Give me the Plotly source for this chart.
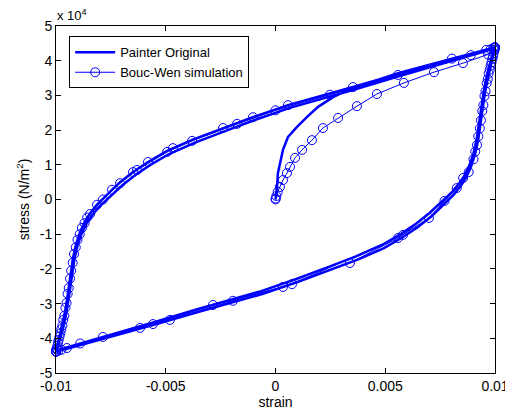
import plotly.graph_objects as go

# ---------------- data (stress in units of 1e4 N/m^2) ----------------
# Painter Original: virgin loading curve
painter_virgin_strain = [0, 0.00003, 0.00007, 0.00011, 0.0002, 0.00034, 0.00057, 0.00098, 0.00144,
                         0.00194, 0.00262, 0.00339, 0.0042, 0.00558, 0.00804, 0.0095, 0.01]
painter_virgin_stress = [0, 0.15, 0.36, 0.76, 1.05, 1.43, 1.80, 2.09, 2.38,
                         2.67, 2.95, 3.18, 3.35, 3.64, 4.06, 4.30, 4.38]

# Painter cycle 1: unloading branch (right corner -> left corner)
painter_down1_strain = [0.01, 0.00995, 0.00986, 0.00977, 0.00968, 0.00959, 0.0095, 0.00941, 0.00932,
                        0.00923, 0.00909, 0.00891, 0.00868, 0.00845, 0.00813, 0.00786, 0.00745, 0.00708,
                        0.00649, 0.00581, 0.00494, 0.0038, 0.00239, 0.00103, -0.00057, -0.00248,
                        -0.00353, -0.00558, -0.00804, -0.0095, -0.01]
painter_down1_stress = [4.38, 4.25, 4.0, 3.8, 3.55, 3.25, 2.9, 2.5, 2.1,
                        1.7, 1.3, 0.95, 0.63, 0.4, 0.15, -0.03, -0.28, -0.5,
                        -0.79, -1.08, -1.40, -1.72, -2.06, -2.37, -2.72, -3.05,
                        -3.24, -3.62, -4.06, -4.30, -4.38]
# Painter cycle 1: loading branch (left corner -> right corner)
painter_up1_strain = [-0.01, -0.00995, -0.00986, -0.00977, -0.00968, -0.00959, -0.0095, -0.00941, -0.00932,
                      -0.00923, -0.00909, -0.00891, -0.00868, -0.00845, -0.00813, -0.00786, -0.00745, -0.00708,
                      -0.00649, -0.00581, -0.00494, -0.0038, -0.00239, -0.00103, 0.00057, 0.00248,
                      0.00353, 0.00558, 0.00804, 0.0095, 0.01]
painter_up1_stress = [-4.38, -4.25, -4.0, -3.8, -3.55, -3.25, -2.9, -2.5, -2.1,
                      -1.7, -1.3, -0.95, -0.63, -0.4, -0.15, 0.03, 0.28, 0.5,
                      0.79, 1.08, 1.40, 1.72, 2.06, 2.37, 2.72, 3.05,
                      3.24, 3.62, 4.06, 4.30, 4.38]
# Painter cycle 2
painter_down2_strain = [0.01, 0.00993, 0.00982, 0.00972, 0.00962, 0.00953, 0.00944, 0.00935, 0.00926,
                        0.00916, 0.00902, 0.00884, 0.0086, 0.00836, 0.00805, 0.00776, 0.00735, 0.00698,
                        0.0064, 0.00572, 0.00485, 0.0037, 0.0023, 0.00095, -0.00065, -0.00255,
                        -0.0036, -0.00565, -0.0081, -0.00955, -0.01]
painter_down2_stress = [4.38, 4.26, 4.02, 3.82, 3.57, 3.27, 2.92, 2.52, 2.12,
                        1.72, 1.33, 0.99, 0.68, 0.46, 0.22, 0.05, -0.19, -0.41,
                        -0.70, -0.99, -1.31, -1.63, -1.97, -2.29, -2.64, -2.98,
                        -3.17, -3.56, -4.00, -4.27, -4.38]
painter_up2_strain = [-0.01, -0.00993, -0.00982, -0.00972, -0.00962, -0.00953, -0.00944, -0.00935, -0.00926,
                      -0.00916, -0.00902, -0.00884, -0.0086, -0.00836, -0.00805, -0.00776, -0.00735, -0.00698,
                      -0.0064, -0.00572, -0.00485, -0.0037, -0.0023, -0.00095, 0.00065, 0.00255,
                      0.0036, 0.00565, 0.0081, 0.00955, 0.01]
painter_up2_stress = [-4.38, -4.26, -4.02, -3.82, -3.57, -3.27, -2.92, -2.52, -2.12,
                      -1.72, -1.33, -0.99, -0.68, -0.46, -0.22, -0.05, 0.19, 0.41,
                      0.70, 0.99, 1.31, 1.63, 1.97, 2.29, 2.64, 2.98,
                      3.17, 3.56, 4.00, 4.27, 4.38]

# Bouc-Wen simulation (sample points shown as circles)
bw_virgin_strain = [0, 0.00001, 0.00004, 0.0001, 0.0002, 0.00034, 0.00052, 0.00066, 0.00089, 0.00121,
                    0.00166, 0.00216, 0.00285, 0.00371, 0.00462, 0.00585, 0.00722, 0.00854, 0.00968, 0.01]
bw_virgin_stress = [0, 0.03, 0.10, 0.22, 0.36, 0.56, 0.76, 0.94, 1.20, 1.43,
                    1.71, 2.06, 2.35, 2.69, 3.04, 3.36, 3.67, 3.93, 4.18, 4.38]

bw_down1_strain = [0.01, 0.00998, 0.00994, 0.00988, 0.0098, 0.00971, 0.00962, 0.00952, 0.00942, 0.00931,
                   0.00918, 0.00902, 0.0088, 0.00826, 0.00699, 0.00558, 0.00339, 0.00034, -0.00285,
                   -0.00558, -0.00786, -0.0095, -0.0099, -0.01]
bw_down1_stress = [4.38, 4.32, 4.22, 4.05, 3.86, 3.63, 3.35, 2.98, 2.55, 2.05,
                   1.57, 1.16, 0.79, 0.33, -0.53, -1.11, -1.83, -2.52, -3.04,
                   -3.59, -3.96, -4.28, -4.36, -4.38]
bw_up1_strain = [-0.01, -0.00998, -0.00994, -0.00988, -0.0098, -0.00971, -0.00962, -0.00952, -0.00942,
                 -0.00931, -0.00918, -0.00902, -0.00882, -0.00858, -0.00813, -0.00745, -0.00649, -0.00581,
                 -0.00467, -0.00239, -0.00103, 0.00057, 0.00353, 0.00804, 0.0096, 0.00993, 0.01]
bw_up1_stress = [-4.38, -4.32, -4.22, -4.05, -3.86, -3.63, -3.35, -2.98, -2.55,
                 -2.05, -1.57, -1.16, -0.82, -0.52, -0.15, 0.28, 0.79, 1.08,
                 1.48, 2.06, 2.37, 2.72, 3.24, 4.06, 4.31, 4.37, 4.38]
bw_down2_strain = [0.01, 0.00997, 0.00991, 0.00984, 0.00976, 0.00967, 0.00957, 0.00947, 0.00936, 0.00924,
                   0.0091, 0.00855, 0.0077, 0.00581, 0.00075, -0.00194, -0.00481, -0.00617, -0.0089,
                   -0.00975, -0.01]
bw_down2_stress = [4.38, 4.30, 4.12, 3.95, 3.74, 3.47, 3.12, 2.72, 2.28, 1.82,
                   1.38, 0.62, -0.04, -1.02, -2.44, -2.92, -3.47, -3.70, -4.15,
                   -4.33, -4.38]
bw_up2_strain = [-0.01, -0.00997, -0.00991, -0.00984, -0.00976, -0.00967, -0.00957, -0.00947, -0.00936,
                 -0.00924, -0.0091, -0.00892, -0.0087, -0.00845, -0.00786, -0.00708, -0.00631, -0.00494,
                 -0.0038, -0.00175, 0.0, 0.00248, 0.00558, 0.0089, 0.0098, 0.01]
bw_up2_stress = [-4.38, -4.30, -4.12, -3.95, -3.74, -3.47, -3.12, -2.72, -2.28,
                 -1.82, -1.38, -1.0, -0.68, -0.42, 0.0, 0.47, 0.85, 1.37,
                 1.69, 2.18, 2.57, 3.02, 3.59, 4.16, 4.33, 4.38]

x_tick_vals = [-0.01, -0.005, 0, 0.005, 0.01]
x_tick_text = ["-0.01", "-0.005", "0", "0.005", "0.01"]
y_tick_vals = [-5, -4, -3, -2, -1, 0, 1, 2, 3, 4, 5]
y_tick_text = ["-5", "-4", "-3", "-2", "-1", "0", "1", "2", "3", "4", "5"]

# ---------------- assemble series ----------------
painter_x = (painter_virgin_strain + painter_down1_strain + painter_up1_strain
             + painter_down2_strain + painter_up2_strain)
painter_y = (painter_virgin_stress + painter_down1_stress + painter_up1_stress
             + painter_down2_stress + painter_up2_stress)
bw_x = bw_virgin_strain + bw_down1_strain + bw_up1_strain + bw_down2_strain + bw_up2_strain
bw_y = bw_virgin_stress + bw_down1_stress + bw_up1_stress + bw_down2_stress + bw_up2_stress

BLUE = "#0000FF"
FONT = "Liberation Sans, Arial, sans-serif"

fig = go.Figure()
fig.add_trace(go.Scatter(
    x=painter_x, y=painter_y, mode="lines", name="Painter Original",
    line=dict(color=BLUE, width=2.5),
))
fig.add_trace(go.Scatter(
    x=bw_x, y=bw_y, mode="lines+markers", name="Bouc-Wen simulation",
    line=dict(color=BLUE, width=1),
    marker=dict(symbol="circle-open", size=9, color=BLUE, line=dict(width=1, color=BLUE)),
    cliponaxis=False,
))

axis_common = dict(
    showline=True, linecolor="black", linewidth=1, mirror="ticks",
    ticks="inside", ticklen=5, tickcolor="black", tickwidth=1,
    showgrid=False, zeroline=False, automargin=False,
    tickfont=dict(family=FONT, size=14, color="black"),
)

# The page body has an 8px margin, so the figure is sized to fit the window.
fig.update_layout(
    width=505, height=405,
    margin=dict(l=48, r=18, t=18, b=40),
    paper_bgcolor="white", plot_bgcolor="white",
    font=dict(family=FONT, size=14, color="black"),
    xaxis=dict(range=[-0.01, 0.01], tickvals=x_tick_vals, ticktext=x_tick_text,
               title=dict(text="strain", font=dict(family=FONT, size=14), standoff=2),
               **axis_common),
    yaxis=dict(range=[-5, 5], tickvals=y_tick_vals, ticktext=y_tick_text,
               title=dict(text="stress (N/m<sup>2</sup>)", font=dict(family=FONT, size=14), standoff=6),
               **axis_common),
    legend=dict(x=0.03, y=0.97, xanchor="left", yanchor="top",
                bgcolor="white", bordercolor="black", borderwidth=1,
                font=dict(family=FONT, size=13, color="black"),
                tracegroupgap=0, itemwidth=40),
    showlegend=True,
    annotations=[dict(text="x 10<sup>4</sup>", xref="paper", yref="paper",
                      x=-0.002, y=1.002, xanchor="left", yanchor="bottom",
                      showarrow=False, font=dict(family=FONT, size=13, color="black"))],
)

fig.write_html("out.html")
